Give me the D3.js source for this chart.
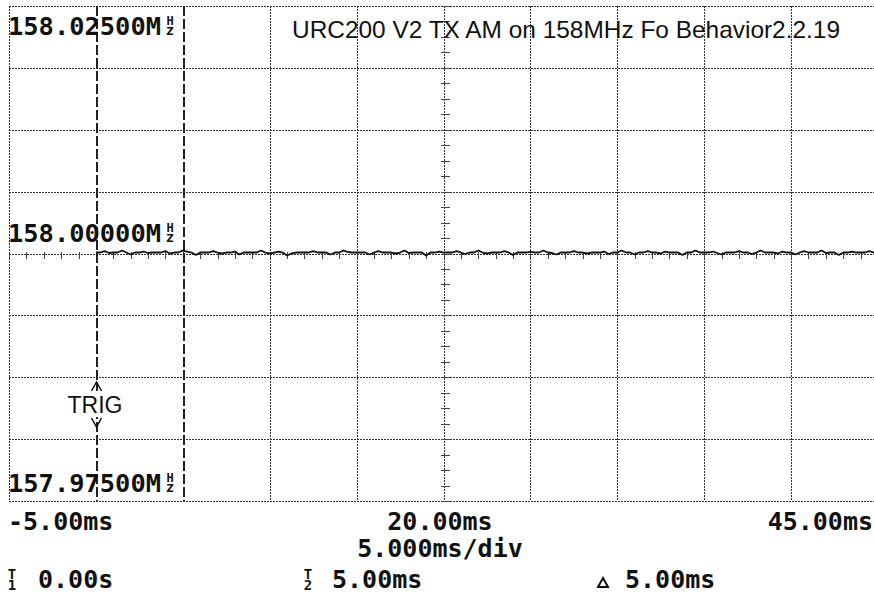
<!doctype html>
<html>
    <head>
        <meta charset="utf-8">
        <script src="https://cdn.jsdelivr.net/npm/d3@7/dist/d3.min.js"></script>
        <style>
            html, body {
                margin: 0;
                padding: 0;
                background: #fff;
            }
            #viz {
                position: absolute;
                top: 0px;
                left: 0px;
                width: 874px;
                height: 598px;
                overflow: hidden;
            }
            .mono {
                font-family: "DejaVu Sans Mono", "Liberation Mono", monospace;
                font-weight: bold;
                fill: #111;
            }
        </style>
    </head>
    <body>
        <div id="viz"></div>
        <script>
            var title = "URC200 V2 TX AM on 158MHz Fo Behavior2.2.19";

            // time axis, ms
            var timeDomain = [-5, 45];
            var timeLabels = ["-5.00ms", "20.00ms", "45.00ms"];
            var timeBase = "5.000ms/div";

            // frequency axis, MHz
            var freqDomain = [157.975, 158.025];
            var freqLabels = ["158.02500M", "158.00000M", "157.97500M"];

            // cursors
            var cursorT1 = 0;
            var cursorT2 = 5;
            var readT1 = "0.00s";
            var readT2 = "5.00ms";
            var readDelta = "5.00ms";

            // trace: one sample each 0.25 ms from 0 ms, offset from 158 MHz in kHz
            var traceStart = 0;
            var traceStep = 0.25;
            var traceKHz = [
                0.10, 0.10, 0.25, 0.05, 0.10, 0.10, 0.30, 0.10, -0.10, 0.10, 0.10, 0.20, 0.05, 0.10, 0.10, 0.10, 0.25, 0.00, 0.10, 0.10,
                0.30, 0.20, 0.10, -0.15, 0.10, 0.10, 0.10, 0.25, 0.10, 0.00, 0.10, 0.10, 0.20, -0.10, 0.10, 0.10, 0.10, 0.10, 0.30, 0.10,
                0.00, 0.10, 0.20, 0.10, -0.20, 0.00, 0.10, 0.10, 0.10, 0.10, 0.25, 0.10, 0.10, 0.10, -0.10, 0.10, 0.10, 0.30, 0.15, 0.10,
                0.10, 0.10, 0.10, -0.10, 0.10, 0.25, 0.10, 0.10, 0.10, 0.00, 0.10, 0.30, 0.05, 0.10, 0.10, 0.10, -0.20, 0.10, 0.10, 0.20,
                0.10, 0.10, 0.10, 0.25, 0.10, -0.05, 0.10, 0.10, 0.30, 0.10, 0.00, 0.10, 0.10, 0.10, 0.25, 0.10, -0.15, 0.10, 0.10, 0.10,
                0.20, 0.10, 0.10, 0.30, 0.10, 0.05, -0.10, 0.10, 0.10, 0.10, 0.25, 0.10, 0.10, 0.00, 0.10, 0.10, 0.10, 0.20, -0.05, 0.10,
                0.10, 0.30, 0.10, 0.10, -0.10, 0.10, 0.10, 0.25, 0.10, 0.10, 0.00, 0.20, 0.10, 0.10, 0.10, -0.15, 0.10, 0.10, 0.30, 0.10,
                0.10, 0.10, 0.20, 0.05, -0.10, 0.10, 0.10, 0.10, 0.25, 0.10, 0.10, -0.05, 0.10, 0.30, 0.10, 0.10, 0.10, 0.00, 0.20, 0.10,
                0.10, -0.10, 0.10, 0.25, 0.10, 0.10, 0.10, 0.30, 0.05, 0.10, 0.10, -0.15, 0.10, 0.10, 0.20, 0.10, 0.10, 0.10, 0.25, 0.10,
                0.10
            ];

            var w = 874, h = 598;
            var plotLeft = 9, plotRight = 878, plotTop = 6, plotBottom = 501;

            var x = d3.scaleLinear().domain(timeDomain).range([plotLeft, plotRight]);
            var y = d3.scaleLinear().domain(freqDomain).range([plotBottom, plotTop]);

            var px = function (v) { return Math.round(x(v)) + 0.5; };
            var py = function (v) { return Math.round(y(v)) + 0.5; };

            var svg = d3.select("#viz").append("svg")
                .attr("width", w)
                .attr("height", h);

            svg.append("rect").attr("width", w).attr("height", h).attr("fill", "#fff");

            var grid = svg.append("g").attr("shape-rendering", "crispEdges");

            // graticule
            var xTicks = d3.range(timeDomain[0], timeDomain[1] + 0.001, 5);
            var yTicks = d3.range(0, 9).map(function (i) {
                return freqDomain[0] + i * (freqDomain[1] - freqDomain[0]) / 8;
            });

            grid.selectAll("line.v")
                .data(xTicks.filter(function (d) { return d !== cursorT1 && d !== cursorT2; }))
                .enter()
                .append("line")
                    .attr("class", "v")
                    .attr("x1", px)
                    .attr("x2", px)
                    .attr("y1", plotTop)
                    .attr("y2", plotBottom)
                    .attr("stroke", "#333")
                    .attr("stroke-dasharray", "2,1");

            grid.selectAll("line.h")
                .data(yTicks)
                .enter()
                .append("line")
                    .attr("class", "h")
                    .attr("x1", plotLeft)
                    .attr("x2", plotRight)
                    .attr("y1", py)
                    .attr("y2", py)
                    .attr("stroke", "#333")
                    .attr("stroke-dasharray", "2,1");

            // minor ticks on the centre lines
            var cx = px(20);
            var cy = py(158);
            var xMinor = d3.range(timeDomain[0], timeDomain[1] + 0.001, 1);
            var yMinor = d3.range(0, 33).map(function (i) {
                return freqDomain[0] + i * (freqDomain[1] - freqDomain[0]) / 32;
            });

            grid.selectAll("line.xm")
                .data(xMinor)
                .enter()
                .append("line")
                    .attr("class", "xm")
                    .attr("x1", px)
                    .attr("x2", px)
                    .attr("y1", cy - 3)
                    .attr("y2", cy + 4)
                    .attr("stroke", "#444");

            grid.selectAll("line.ym")
                .data(yMinor)
                .enter()
                .append("line")
                    .attr("class", "ym")
                    .attr("x1", cx - 4)
                    .attr("x2", cx + 5)
                    .attr("y1", py)
                    .attr("y2", py)
                    .attr("stroke", "#444");

            // cursor lines
            grid.selectAll("line.cur")
                .data([cursorT1, cursorT2])
                .enter()
                .append("line")
                    .attr("class", "cur")
                    .attr("x1", px)
                    .attr("x2", px)
                    .attr("y1", plotTop)
                    .attr("y2", plotBottom)
                    .attr("stroke", "#222")
                    .attr("stroke-width", 2)
                    .attr("stroke-dasharray", "10,3");

            // trace
            var line = d3.line()
                .x(function (d, i) { return x(traceStart + i * traceStep); })
                .y(function (d) { return y(158 + d / 1000); });

            svg.append("path")
                .datum(traceKHz)
                .attr("d", line)
                .attr("fill", "none")
                .attr("stroke", "#111")
                .attr("stroke-width", 1.8)
                .attr("stroke-linejoin", "bevel");

            // TRIG marker
            var tx = px(cursorT1);
            svg.append("rect")
                .attr("x", tx - 6).attr("y", 391)
                .attr("width", 12).attr("height", 26)
                .attr("fill", "#fff");
            svg.append("path")
                .attr("d", "M" + (tx - 5) + ",391L" + tx + ",382L" + (tx + 5) + ",391")
                .attr("fill", "none").attr("stroke", "#111").attr("stroke-width", 1.5);
            svg.append("path")
                .attr("d", "M" + (tx - 5) + ",418L" + tx + ",427L" + (tx + 5) + ",418")
                .attr("fill", "none").attr("stroke", "#111").attr("stroke-width", 1.5);
            svg.append("text")
                .attr("x", tx - 29).attr("y", 413)
                .attr("font-family", "Liberation Sans, Arial, sans-serif")
                .attr("font-size", 23)
                .attr("fill", "#111")
                .text("TRIG");

            // title
            svg.append("text")
                .attr("x", 292).attr("y", 38)
                .attr("font-family", "Liberation Sans, Arial, sans-serif")
                .attr("font-size", 24)
                .attr("textLength", 548)
                .attr("lengthAdjust", "spacingAndGlyphs")
                .attr("fill", "#111")
                .text(title);

            // frequency labels, with a stacked Hz glyph after the M
            var freqBase = [35, 242, 492];
            var fl = svg.selectAll("g.fl")
                .data(freqLabels)
                .enter()
                .append("g")
                    .attr("class", "fl");
            fl.append("text")
                .attr("class", "mono")
                .attr("x", 8)
                .attr("y", function (d, i) { return freqBase[i]; })
                .attr("font-size", 25)
                .attr("textLength", 153)
                .attr("lengthAdjust", "spacingAndGlyphs")
                .text(function (d) { return d; });
            var hz = fl.append("text")
                .attr("class", "mono")
                .attr("text-anchor", "middle")
                .attr("y", function (d, i) { return freqBase[i] - 10; });
            hz.append("tspan")
                .attr("x", 170)
                .attr("font-size", 12)
                .text("H");
            hz.append("tspan")
                .attr("x", 170)
                .attr("dy", 10)
                .attr("font-size", 14)
                .text("z");

            // time labels
            var tAnchor = ["start", "middle", "end"];
            var tX = [8, 440, 873];
            svg.selectAll("text.tl")
                .data(timeLabels)
                .enter()
                .append("text")
                    .attr("class", "mono tl")
                    .attr("x", function (d, i) { return tX[i]; })
                    .attr("y", 530)
                    .attr("font-size", 25)
                    .attr("text-anchor", function (d, i) { return tAnchor[i]; })
                    .text(function (d) { return d; });

            svg.append("text")
                .attr("class", "mono")
                .attr("x", 440).attr("y", 557)
                .attr("font-size", 25)
                .attr("text-anchor", "middle")
                .text(timeBase);

            // cursor readouts
            var readouts = [
                {sub: "1", x: 6, tx: 38, v: readT1},
                {sub: "2", x: 302, tx: 332, v: readT2}
            ];
            readouts.forEach(function (r) {
                var t = svg.append("text").attr("class", "mono")
                    .attr("text-anchor", "middle")
                    .attr("y", 579);
                t.append("tspan").attr("x", r.x + 6)
                    .attr("font-size", 14).text("T");
                t.append("tspan").attr("x", r.x + 6).attr("dy", 11)
                    .attr("font-size", 14).text(r.sub);
                svg.append("text").attr("class", "mono")
                    .attr("x", r.tx).attr("y", 588)
                    .attr("font-size", 25)
                    .text(r.v);
            });
            svg.append("path")
                .attr("d", "M598,587L603,578L608,587Z")
                .attr("fill", "none").attr("stroke", "#111").attr("stroke-width", 2);
            svg.append("text").attr("class", "mono")
                .attr("x", 625).attr("y", 588)
                .attr("font-size", 25)
                .text(readDelta);
        </script>
    </body>
</html>
